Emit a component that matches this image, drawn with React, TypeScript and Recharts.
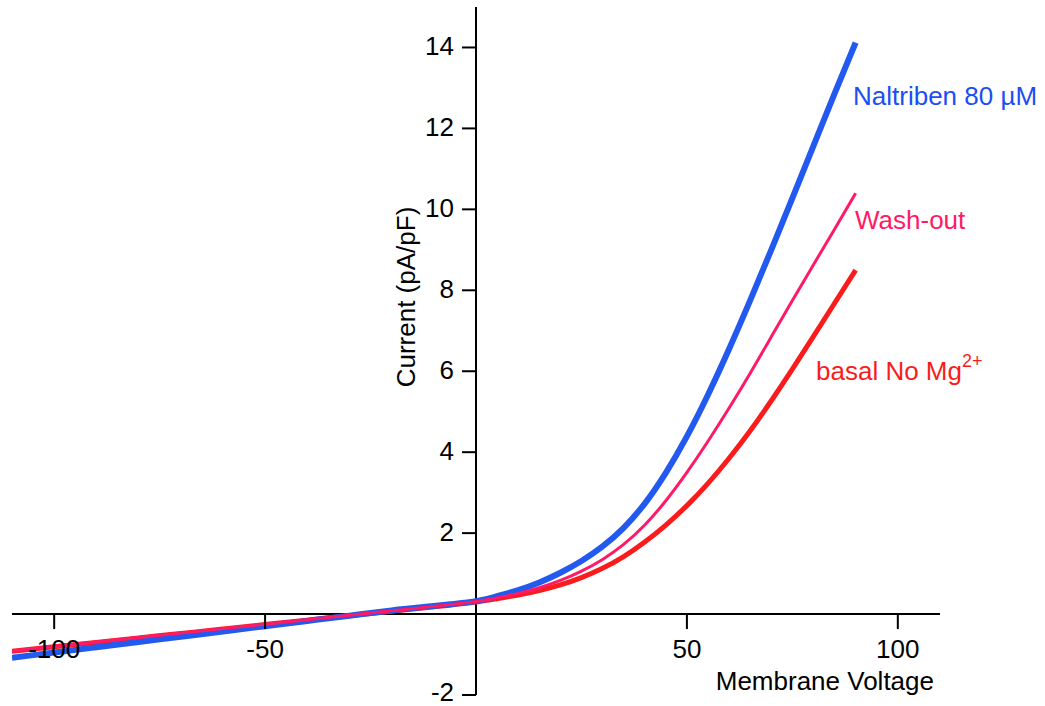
import { LineChart, Line, XAxis, YAxis, ReferenceLine, ReferenceDot } from 'recharts';

// membrane voltage (mV) and current density (pA/pF)
const voltage = [-110, -100, -90, -80, -70, -60, -50, -40, -30, -20, -10, 0, 5, 10, 15, 20, 25, 30, 35, 40, 45, 50, 55, 60, 65, 70, 75, 80, 85, 90];
const naltriben = [-1.08, -0.95, -0.82, -0.69, -0.56, -0.43, -0.3, -0.17, -0.04, 0.09, 0.2, 0.32, 0.44, 0.59, 0.78, 1.02, 1.31, 1.67, 2.13, 2.73, 3.49, 4.39, 5.42, 6.55, 7.75, 9.0, 10.28, 11.57, 12.86, 14.12];
const washout = [-0.91, -0.8, -0.69, -0.58, -0.47, -0.36, -0.25, -0.14, -0.03, 0.08, 0.19, 0.31, 0.4, 0.51, 0.65, 0.83, 1.06, 1.35, 1.72, 2.2, 2.8, 3.5, 4.27, 5.09, 5.95, 6.85, 7.75, 8.63, 9.51, 10.4];
const basal = [-0.92, -0.81, -0.7, -0.59, -0.48, -0.37, -0.26, -0.15, -0.04, 0.07, 0.18, 0.3, 0.38, 0.47, 0.58, 0.72, 0.9, 1.13, 1.42, 1.78, 2.2, 2.68, 3.23, 3.85, 4.53, 5.27, 6.05, 6.86, 7.68, 8.5];

const xTicks = [-100, -50, 50, 100];
const yTicks = [-2, 2, 4, 6, 8, 10, 12, 14];

const BLUE = '#2259ee';
const PINK = '#ff1a66';
const RED = '#fa1c1c';
const FONT = 'Liberation Sans, Arial, sans-serif';

const rows = voltage.map((v, i) => ({ v, naltriben: naltriben[i], washout: washout[i], basal: basal[i] }));

// tick marks hang off the axes that cross at the origin
const XTick = ({ cx, cy, label }: { cx?: number; cy?: number; label: number }) => (
  <g>
    <line x1={cx} y1={cy} x2={cx} y2={(cy ?? 0) + 15} stroke="#000" strokeWidth={2} />
    <text x={cx} y={(cy ?? 0) + 44} textAnchor="middle" fontSize={26} fontFamily={FONT} fill="#000">{label}</text>
  </g>
);

const YTick = ({ cx, cy, label }: { cx?: number; cy?: number; label: number }) => (
  <g>
    <line x1={(cx ?? 0) - 14} y1={cy} x2={cx} y2={cy} stroke="#000" strokeWidth={2} />
    <text x={(cx ?? 0) - 22} y={(cy ?? 0) + (label < 0 ? 6 : 8)} textAnchor="end" fontSize={26} fontFamily={FONT} fill="#000">{label}</text>
  </g>
);

export default function App() {
  return (
    <div style={{ position: 'absolute', left: 0, top: 0, width: 1045, height: 706, background: '#fff' }}>
      <LineChart width={1045} height={706} data={rows} margin={{ top: 7, right: 105, bottom: 11, left: 12 }}>
        <XAxis type="number" dataKey="v" domain={[-110, 110]} hide allowDataOverflow />
        <YAxis type="number" domain={[-2, 15]} hide allowDataOverflow />
        <ReferenceLine y={0} stroke="#000" strokeWidth={2} />
        <ReferenceLine x={0} stroke="#000" strokeWidth={2} />
        {xTicks.map(t => (
          <ReferenceDot key={'x' + t} x={t} y={0} r={0} shape={(p: any) => <XTick cx={p.cx} cy={p.cy} label={t} />} />
        ))}
        {yTicks.map(t => (
          <ReferenceDot key={'y' + t} x={0} y={t} r={0} shape={(p: any) => <YTick cx={p.cx} cy={p.cy} label={t} />} />
        ))}
        <Line type="natural" dataKey="basal" stroke={RED} strokeWidth={5} dot={false} isAnimationActive={false} />
        <Line type="natural" dataKey="naltriben" stroke={BLUE} strokeWidth={6} dot={false} isAnimationActive={false} />
        <Line type="natural" dataKey="washout" stroke={PINK} strokeWidth={3} dot={false} isAnimationActive={false} />
      </LineChart>
      <svg width={1045} height={706} style={{ position: 'absolute', left: 0, top: 0, pointerEvents: 'none' }}>
        <text x={934} y={690} textAnchor="end" fontSize={26} fontFamily={FONT} fill="#000">Membrane Voltage</text>
        <text transform="translate(415,297) rotate(-90)" textAnchor="middle" fontSize={26} fontFamily={FONT} fill="#000">Current (pA/pF)</text>
        <text x={853} y={105} fontSize={26} fontFamily={FONT} fill="#1b4ef5">Naltriben 80 µM</text>
        <text x={855} y={229} fontSize={26} fontFamily={FONT} fill={PINK}>Wash-out</text>
        <text x={816} y={380} fontSize={26} fontFamily={FONT} fill={RED}>
          basal No Mg<tspan dy={-13} fontSize={18}>2+</tspan>
        </text>
      </svg>
    </div>
  );
}
